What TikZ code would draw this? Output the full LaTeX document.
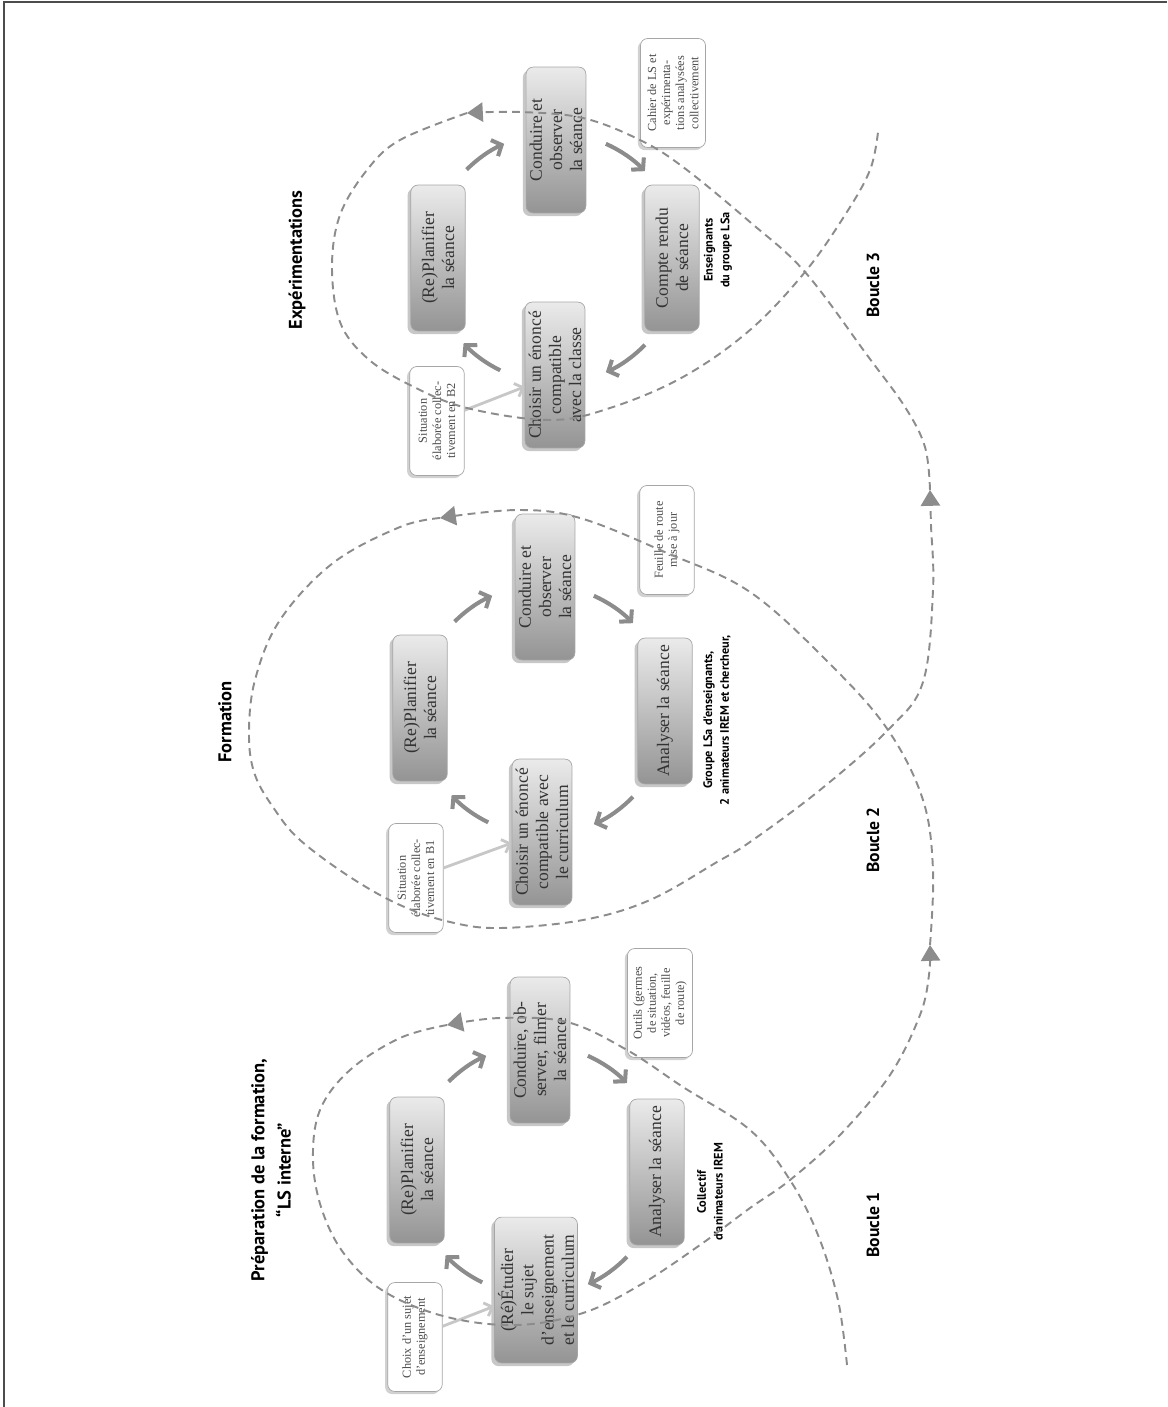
\documentclass[tikz,border=0pt]{standalone}
\usepackage{fontspec}
\setmainfont{Liberation Serif}
\newfontfamily\sansgras{PT Sans}
\usetikzlibrary{positioning,arrows.meta,shadows}

\tikzset{
  etape/.style={rotate=90, draw=black!35, rounded corners=4pt, top color=black!8, bottom color=black!42,
    minimum width=83pt, minimum height=31pt, inner sep=2pt, align=center, text=black!80,
    font=\fontsize{10}{11.5}\selectfont,
    drop shadow={shadow xshift=-1.8pt, shadow yshift=-1.8pt, fill=black!22, opacity=1}},
  docu/.style={rotate=90, draw=black!35, rounded corners=4pt, fill=white,
    minimum width=62pt, minimum height=31pt, inner sep=2pt, align=center, text=black!70,
    font=\fontsize{7}{8}\selectfont,
    drop shadow={shadow xshift=-1.5pt, shadow yshift=-1.5pt, fill=black!18, opacity=1}},
  titre/.style={rotate=90, align=center, font=\sansgras\bfseries\fontsize{10.5}{15}\selectfont},
  acteur/.style={rotate=90, align=center, font=\sansgras\bfseries\fontsize{7}{9.5}\selectfont},
  boucle/.style={rotate=90, font=\sansgras\bfseries\fontsize{10}{12}\selectfont},
  tour/.style={line width=2.3pt, black!45, -{Straight Barb[length=4.5pt,width=10pt]}},
  apport/.style={line width=1.6pt, black!22, -{Straight Barb[length=4pt,width=8pt]}},
  spirale/.style={black!45, line width=1.1pt, dash pattern=on 4.5pt off 3pt,
    -{Triangle[width=11pt,length=9pt]}},
  cadre/.style={black!70, line width=1.4pt}
}

\begin{document}
\begin{tikzpicture}[x=0.02cm, y=0.02cm]
\useasboundingbox (0,0) rectangle (1167,-1407);
\draw[cadre] (4,-1407) -- (4,-2) -- (1167,-2);

\coordinate (c1) at (537,-1170);
\coordinate (c2) at (543,-710);
\coordinate (c3) at (555,-258);

\node[titre] (t1) at (271,-1170) {Préparation de la formation,\\“LS interne”};
\node[etape] (plan1) at (417,-1170) {(Re)Planifier\\la séance};
\node[etape] (etu1) at (536,-1290) {(Ré)Étudier\\le sujet\\d'enseignement\\et le curriculum};
\node[etape] (cond1) at (540,-1050) {Conduire, ob-\\server, filmer\\la séance};
\node[etape] (ana1) at (657,-1172) {Analyser la séance};
\node[docu] (choix1) at (415,-1337) {Choix d'un sujet\\d'enseignement};
\node[docu, minimum height=37pt] (outils1) at (660,-1003) {Outils (germes\\de situation,\\vidéos, feuille\\de route)};
\node[acteur] (act1) at (710,-1192) {Collectif\\d'animateurs IREM};
\node[boucle] (b1) at (873,-1225) {Boucle 1};

\node[titre] (t2) at (225,-722) {Formation};
\node[etape] (plan2) at (420,-708) {(Re)Planifier\\la séance};
\node[etape] (choi2) at (542,-832) {Choisir un énoncé\\compatible avec\\le curriculum};
\node[etape] (cond2) at (545,-587) {Conduire et\\observer\\la séance};
\node[etape] (ana2) at (665,-711) {Analyser la séance};
\node[docu] (sit1) at (416,-878) {Situation\\élaborée collec-\\tivement en B1};
\node[docu] (feuil2) at (667,-540) {Feuille de route\\mise à jour};
\node[acteur] (act2) at (717,-720) {Groupe LSa d'enseignants,\\2 animateurs IREM et chercheur,};
\node[boucle] (b2) at (873,-840) {Boucle 2};

\node[titre] (t3) at (297,-260) {Expérimentations};
\node[etape] (plan3) at (438,-258) {(Re)Planifier\\la séance};
\node[etape] (choi3) at (555,-375) {Choisir un énoncé\\compatible\\avec la classe};
\node[etape] (cond3) at (556,-140) {Conduire et\\observer\\la séance};
\node[etape] (cr3) at (672,-258) {Compte rendu\\de séance};
\node[docu] (sit2) at (437,-421) {Situation\\élaborée collec-\\tivement en B2};
\node[docu, minimum height=37pt] (cahier3) at (673,-93) {Cahier de LS et\\expérimenta-\\tions analysées\\collectivement};
\node[acteur] (act3) at (718,-250) {Enseignants\\du groupe LSa};
\node[boucle] (b3) at (873,-285) {Boucle 3};

\foreach \c in {c1,c2,c3}
  \foreach \a/\b in {244/223,135/114,66/44,-44/-66}
    \draw[tour] ([shift={(\a:125)}]\c) arc[start angle=\a, end angle=\b, radius=125];

\draw[apport] (choix1) -- (etu1);
\draw[apport] (sit1) -- (choi2);
\draw[apport] (sit2) -- (choi3);

\draw[spirale] plot[smooth, tension=0.6] coordinates {(847,-1365) (838,-1300) (818,-1235) (790,-1180)
  (750,-1130) (683,-1087) (627,-1050) (567,-1022) (500,-1018) (447,-1025)};
\draw[spirale] plot[smooth, tension=0.6] coordinates {(447,-1025) (400,-1038) (350,-1070) (320,-1110)
  (313,-1160) (322,-1210) (345,-1255) (385,-1292) (447,-1317) (517,-1325) (583,-1313) (640,-1285)
  (700,-1245) (750,-1208) (790,-1180) (840,-1135) (890,-1075) (920,-1015) (929,-975) (930,-945)};
\draw[spirale] plot[smooth, tension=0.6] coordinates {(930,-945) (933,-870) (923,-800) (888,-730)
  (830,-664) (750,-592) (667,-553) (580,-518) (517,-510) (440,-518)};
\draw[spirale] plot[smooth, tension=0.6] coordinates {(440,-518) (400,-527) (333,-563) (280,-620)
  (255,-680) (249,-735) (255,-775) (275,-810) (300,-840) (350,-877) (400,-905) (450,-922) (500,-928)
  (583,-920) (650,-900) (717,-862) (750,-842) (820,-790) (888,-730) (923,-682) (933,-590)
  (931,-525) (930,-490)};
\draw[spirale] plot[smooth, tension=0.6] coordinates {(930,-490) (925,-447) (905,-407) (867,-355)
  (805,-272) (750,-222) (683,-167) (640,-140) (583,-118) (520,-112) (467,-113)};
\draw[spirale, -] plot[smooth, tension=0.6] coordinates {(467,-113) (400,-140) (367,-170) (340,-215)
  (332,-267) (340,-322) (367,-358) (410,-385) (467,-408) (550,-420) (610,-408) (683,-377)
  (750,-330) (805,-272) (845,-215) (870,-170) (878,-132)};
\end{tikzpicture}
\end{document}
